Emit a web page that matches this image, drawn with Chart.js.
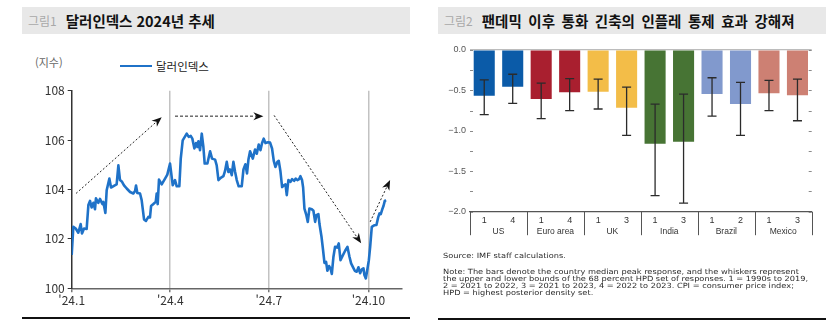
<!DOCTYPE html>
<html lang="ko">
<head>
<meta charset="utf-8">
<script src="https://cdn.jsdelivr.net/npm/chart.js@4.4.1/dist/chart.umd.min.js"></script>
<style>
    body { margin: 0; width: 839px; height: 322px; background: #fff; position: relative; overflow: hidden; font-family: 'Noto Sans CJK KR', sans-serif; }
    .head { position: absolute; top: 7px; height: 27px; background: #e8e8e8; display: flex; align-items: center; white-space: nowrap; }
    .head .no { color: #a8a8a8; font-size: 12px; margin-left: 6px; }
    .head .tt { color: #111; font-size: 14.5px; font-weight: bold; margin-left: 9px; }
    .rule { position: absolute; height: 1.5px; background: #111; }
    .unit { position: absolute; left: 35px; top: 54px; font-size: 11px; color: #666; }
    .legend { position: absolute; left: 120px; top: 58px; font-size: 11.5px; color: #222; display: flex; align-items: center; }
    .legend i { display: inline-block; width: 32px; height: 2.6px; background: #1f72c8; margin-right: 4px; }
    canvas { position: absolute; }
    .notes { position: absolute; left: 443px; top: 252px; font-family: 'DejaVu Sans', sans-serif; font-size: 7.1px; color: #2a2a2a; white-space: nowrap; transform: scaleX(1.16); transform-origin: left top; }
    .notes p { margin: 0; line-height: 7.1px; }
    .notes .src { margin-bottom: 8.9px; }
</style>
</head>
<body>
<div class="head" style="left:22px;width:388px"><span class="no">그림1</span><span class="tt">달러인덱스 2024년 추세</span></div>
<div class="head" style="left:438px;width:388px"><span class="no">그림2</span><span class="tt" style="word-spacing:2.5px">팬데믹 이후 통화 긴축의 인플레 통제 효과 강해져</span></div>

<div class="unit">(지수)</div>
<div class="legend"><i></i>달러인덱스</div>
<canvas id="dxyChart" width="420" height="230" style="left:0;top:80px"></canvas>
<div class="rule" style="left:22px;width:388px;top:317px"></div>

<canvas id="imfChart" width="400" height="215" style="left:430px;top:40px"></canvas>
<div class="notes">
    <p class="src">Source: IMF staff calculations.</p>
    <p>Note: The bars denote the country median peak response, and the whiskers represent</p>
    <p>the upper and lower bounds of the 68 percent HPD set of responses. 1 = 1990s to 2019,</p>
    <p>2 = 2021 to 2022, 3 = 2021 to 2023, 4 = 2022 to 2023. CPI = consumer price index;</p>
    <p>HPD = highest posterior density set.</p>
</div>
<div class="rule" style="left:438px;width:388px;top:318px"></div>

<script>
// 달러인덱스 (일수: 1월 1일 기준)
const dxyDays = [
    0, 1.5, 3.7, 6.1, 8.3, 9.5, 11.4, 13.8, 15.4, 16.9,
    18.4, 20, 21.5, 22.4, 24.6, 26.1, 28.3, 29.2, 31.1, 32.3,
    34.8, 36.3, 39.4, 41.5, 43.1, 44.6, 46.5, 48.3, 50.8, 53.9,
    56.9, 58.5, 59.4, 60.6, 63.1, 64.6, 66.8, 68.6, 70.8, 72.3,
    73.3, 75.4, 77.6, 78.5, 79.4, 80.6, 83.1, 86.2, 88.3, 90.8,
    93.3, 95.4, 97, 99.4, 100.7, 102.5, 104.7, 106.2, 108.1, 109.9,
    111.4, 113.3, 114.8, 116.1, 117, 118.5, 120.1, 121.6, 122.8, 125.3,
    127.8, 129.6, 132.4, 133.9, 135.5, 137.6, 140.1, 141.6, 143.2, 144.7,
    146.2, 147.8, 149.3, 150.9, 152.4, 154.2, 157, 158.6, 160.4, 161.9,
    163.2, 164.7, 167.2, 169.3, 170.9, 172.7, 174.3, 175.8, 177.3, 178.9,
    181.3, 183.2, 185, 186.6, 188.1, 190, 191.2, 192.7, 194.3, 195.8,
    197.4, 198.6, 200.1, 202, 203.5, 205.4, 206.9, 208.4, 210, 211.2,
    212.7, 213.7, 214.9, 216.7, 218, 219.5, 221.7, 223.2, 224.8, 226,
    227.8, 228.8, 230.6, 232.1, 233.4, 234.9, 236.1, 237.7, 238.9, 240.2,
    241.7, 243.2, 245.1, 246.6, 248.2, 250, 252.5, 254.6, 256.5, 258,
    259.6, 261.4, 263.2, 264.8, 266.3, 267.9, 269.4, 270.3, 271.6, 272.8,
    274.4, 275.6, 277.1, 279.3, 281.4, 283, 284.2, 285.4, 286.7, 287.9, 289.1, 290.3
];
const dxyValues = [
    101.35, 102.49, 102.42, 102.25, 102.6, 102.22, 102.42, 102.40, 103.37, 103.54,
    103.27, 103.46, 103.2, 103.64, 103.46, 103.62, 103.41, 103.5, 103.05, 103.97,
    104.44, 104.08, 104.16, 104.21, 104.98, 104.38, 104.31, 104.17, 104.04, 103.9,
    103.84, 103.94, 104.16, 103.86, 103.84, 103.57, 102.79, 102.73, 102.89, 102.87,
    103.33, 103.41, 103.5, 103.84, 103.41, 104.4, 104.21, 104.44, 104.6, 105.05,
    104.17, 104.38, 104.13, 104.13, 105.25, 105.99, 106.15, 106.26, 106.13, 106.17,
    106.06, 105.66, 105.88, 105.72, 105.95, 105.59, 106.26, 105.72, 105.05, 105.05,
    105.55, 105.25, 105.21, 104.98, 104.38, 104.47, 104.54, 104.75, 105.12, 104.71,
    104.81, 104.58, 105.12, 104.71, 104.38, 104.13, 104.13, 104.81, 105.02, 104.65,
    105.21, 105.55, 105.25, 105.62, 105.45, 105.82, 105.59, 105.88, 106.06, 105.88,
    105.91, 105.9, 105.66, 105.16, 104.91, 105.12, 105.16, 104.75, 104.1, 104.17,
    104.21, 103.77, 104.38, 104.31, 104.42, 104.35, 104.44, 104.38, 104.42, 104.54,
    104.38, 104.08, 103.23, 102.96, 102.69, 103.23, 103.2, 103.14, 102.69, 102.96,
    103.0, 102.6, 102.11, 101.55, 101.03, 101.07, 100.71, 100.9, 100.81, 100.58,
    101.28, 101.68, 101.65, 101.82, 101.14, 101.3, 101.52, 101.68, 101.28, 101.01,
    100.87, 100.71, 100.67, 100.85, 100.61, 100.77, 100.81, 100.54, 100.4, 100.71,
    101.14, 101.68, 102.49, 102.55, 102.56, 102.87, 103.03, 103.0, 103.19, 103.33, 103.54, 103.57
];
const quarterDays = [0, 91, 182, 274];
const quarterLabels = ["'24.1", "'24.4", "'24.7", "'24.10"];
// 추세 화살표: [시작일, 시작값, 끝일, 끝값]
const trendArrows = [
    [4, 103.84, 83.1, 106.93],
    [95.4, 106.97, 177, 106.97],
    [186.9, 107.0, 267.3, 101.82],
    [275.6, 102.69, 294, 104.38]
];

// IMF: 국가별 CPI 최대 반응 (중앙값, 68% HPD 상하한)
const countries = ['US', 'Euro area', 'UK', 'India', 'Brazil', 'Mexico'];
const periodLabels = ['1', '4', '1', '4', '1', '3', '1', '3', '1', '2', '1', '3'];
const medianResponse = [-0.565, -0.454, -0.607, -0.524, -0.516, -0.714, -1.16, -1.135, -0.545, -0.668, -0.536, -0.56];
const hpdUpper = [-0.37, -0.30, -0.41, -0.355, -0.36, -0.46, -0.67, -0.545, -0.343, -0.40, -0.375, -0.36];
const hpdLower = [-0.80, -0.66, -0.85, -0.75, -0.73, -1.056, -1.80, -1.895, -0.817, -1.056, -0.75, -0.875];

const countryColors = ['#0b5ba8', '#a91f2f', '#f3bd48', '#477434', '#8199cd', '#cd8073'];
const barColors = periodLabels.map((p, i) => countryColors[Math.floor(i / 2)]);

const arrowPlugin = {
    id: 'trendArrows',
    afterDatasetsDraw(chart) {
        const {ctx, scales: {x, y}} = chart;
        ctx.save();
        trendArrows.forEach(function (a, i) {
            const x1 = x.getPixelForValue(a[0]), y1 = y.getPixelForValue(a[1]);
            const x2 = x.getPixelForValue(a[2]), y2 = y.getPixelForValue(a[3]);
            const ang = Math.atan2(y2 - y1, x2 - x1);
            const len = 10, half = 4;
            ctx.strokeStyle = '#222';
            ctx.lineWidth = 1;
            ctx.setLineDash(i === 1 ? [3, 2] : [2, 2]);
            ctx.beginPath();
            ctx.moveTo(x1, y1);
            ctx.lineTo(x2 - Math.cos(ang) * len * 0.7, y2 - Math.sin(ang) * len * 0.7);
            ctx.stroke();
            ctx.setLineDash([]);
            // 화살촉
            const bx = x2 - Math.cos(ang) * len, by = y2 - Math.sin(ang) * len;
            ctx.fillStyle = '#111';
            ctx.beginPath();
            ctx.moveTo(x2, y2);
            ctx.lineTo(bx + Math.sin(ang) * half, by - Math.cos(ang) * half);
            ctx.lineTo(x2 - Math.cos(ang) * len * 0.7, y2 - Math.sin(ang) * len * 0.7);
            ctx.lineTo(bx - Math.sin(ang) * half, by + Math.cos(ang) * half);
            ctx.closePath();
            ctx.fill();
        });
        ctx.restore();
    }
};

new Chart(document.getElementById('dxyChart'), {
    type: 'line',
    data: {
        datasets: [{
            label: '달러인덱스',
            data: dxyDays.map((d, i) => ({x: d, y: dxyValues[i]})),
            borderColor: '#1f72c8',
            borderWidth: 2.6,
            pointRadius: 0,
            borderJoinStyle: 'round',
            tension: 0
        }]
    },
    options: {
        responsive: false,
        animation: false,
        layout: {padding: {top: 10.7, right: 18}},
        plugins: {legend: {display: false}, tooltip: {enabled: false}},
        scales: {
            x: {
                type: 'linear', min: 0, max: 305,
                afterBuildTicks: s => { s.ticks = quarterDays.map(v => ({value: v})); },
                afterFit: s => { s.height = 21.7; },
                ticks: {
                    autoSkip: false, maxRotation: 0, padding: 1, color: '#333',
                    font: {family: 'Noto Sans CJK KR', size: 12},
                    callback: (v, i) => quarterLabels[i]
                },
                grid: {
                    color: c => (c.tick && c.tick.value === 0) ? 'rgba(0,0,0,0)' : '#c2c2c2',
                    lineWidth: 1.5, tickLength: 4, tickColor: '#777'
                },
                border: {color: '#666', width: 1.5}
            },
            y: {
                min: 100, max: 108,
                afterFit: s => { s.width = 71.7; },
                ticks: {stepSize: 2, padding: 3, color: '#333', font: {family: 'Noto Sans CJK KR', size: 12}},
                grid: {drawOnChartArea: false, tickLength: 4, tickColor: '#333'},
                border: {color: '#333', width: 1.5}
            }
        }
    },
    plugins: [arrowPlugin]
});

const imfPlugin = {
    id: 'imfDecor',
    afterDatasetsDraw(chart) {
        const {ctx, chartArea: ca, scales: {x, y}} = chart;
        ctx.save();
        // 안쪽 눈금
        ctx.strokeStyle = '#8a8a8a';
        ctx.lineWidth = 1;
        y.ticks.forEach(function (t) {
            const py = Math.round(y.getPixelForValue(t.value)) + 0.5;
            ctx.beginPath();
            ctx.moveTo(ca.left, py); ctx.lineTo(ca.left + 3, py);
            ctx.moveTo(ca.right - 3, py); ctx.lineTo(ca.right, py);
            ctx.stroke();
        });
        // 68% HPD 구간
        ctx.strokeStyle = '#2b2b2b';
        ctx.lineWidth = 1.3;
        medianResponse.forEach(function (m, i) {
            const px = x.getPixelForValue(i);
            const top = y.getPixelForValue(hpdUpper[i]), bot = y.getPixelForValue(hpdLower[i]);
            ctx.beginPath();
            ctx.moveTo(px, top); ctx.lineTo(px, bot);
            ctx.moveTo(px - 4.5, top); ctx.lineTo(px + 4.5, top);
            ctx.moveTo(px - 4.5, bot); ctx.lineTo(px + 4.5, bot);
            ctx.stroke();
        });
        // 국가 구분선
        ctx.strokeStyle = '#555';
        ctx.lineWidth = 1;
        for (let g = 0; g <= countries.length; g++) {
            let px;
            if (g === 0) px = ca.left;
            else if (g === countries.length) px = ca.right;
            else px = (x.getPixelForValue(g * 2 - 1) + x.getPixelForValue(g * 2)) / 2;
            px = Math.round(px) + 0.5;
            ctx.beginPath();
            ctx.moveTo(px, ca.bottom); ctx.lineTo(px, ca.bottom + 23.5);
            ctx.stroke();
        }
        ctx.restore();
    }
};

const fmtResponse = v => v === 0 ? '0.0' : '\u2212' + Math.abs(v).toFixed(1);

new Chart(document.getElementById('imfChart'), {
    type: 'bar',
    data: {
        labels: periodLabels,
        datasets: [{
            data: medianResponse,
            backgroundColor: barColors,
            barPercentage: 0.74,
            categoryPercentage: 1
        }]
    },
    options: {
        responsive: false,
        animation: false,
        layout: {padding: {top: 10, right: 18.3, bottom: 15}},
        plugins: {legend: {display: false}, tooltip: {enabled: false}},
        scales: {
            x: {
                weight: 0,
                afterFit: s => { s.height = 14; },
                grid: {display: false, drawTicks: false},
                border: {color: '#555', width: 1.2},
                ticks: {padding: 3, color: '#333', font: {family: 'Liberation Sans', size: 9}}
            },
            x2: {
                type: 'category', labels: countries, position: 'bottom', offset: true, weight: 1,
                afterFit: s => { s.height = 14.3; },
                grid: {display: false, drawTicks: false},
                border: {display: false},
                ticks: {padding: 1, color: '#333', font: {family: 'Liberation Sans', size: 8.5}}
            },
            y: {
                min: -2, max: 0,
                afterFit: s => { s.width = 40; },
                ticks: {
                    stepSize: 0.25, padding: 4, color: '#555',
                    font: {family: 'Liberation Sans', size: 9},
                    callback: v => Math.abs(v * 2 - Math.round(v * 2)) < 1e-6 ? fmtResponse(v) : ''
                },
                grid: {
                    drawTicks: false, lineWidth: 1.2,
                    color: c => (c.tick && c.tick.value === 0) ? '#bcbcbc' : 'rgba(0,0,0,0)'
                },
                border: {display: false}
            }
        }
    },
    plugins: [imfPlugin]
});
</script>
</body>
</html>
